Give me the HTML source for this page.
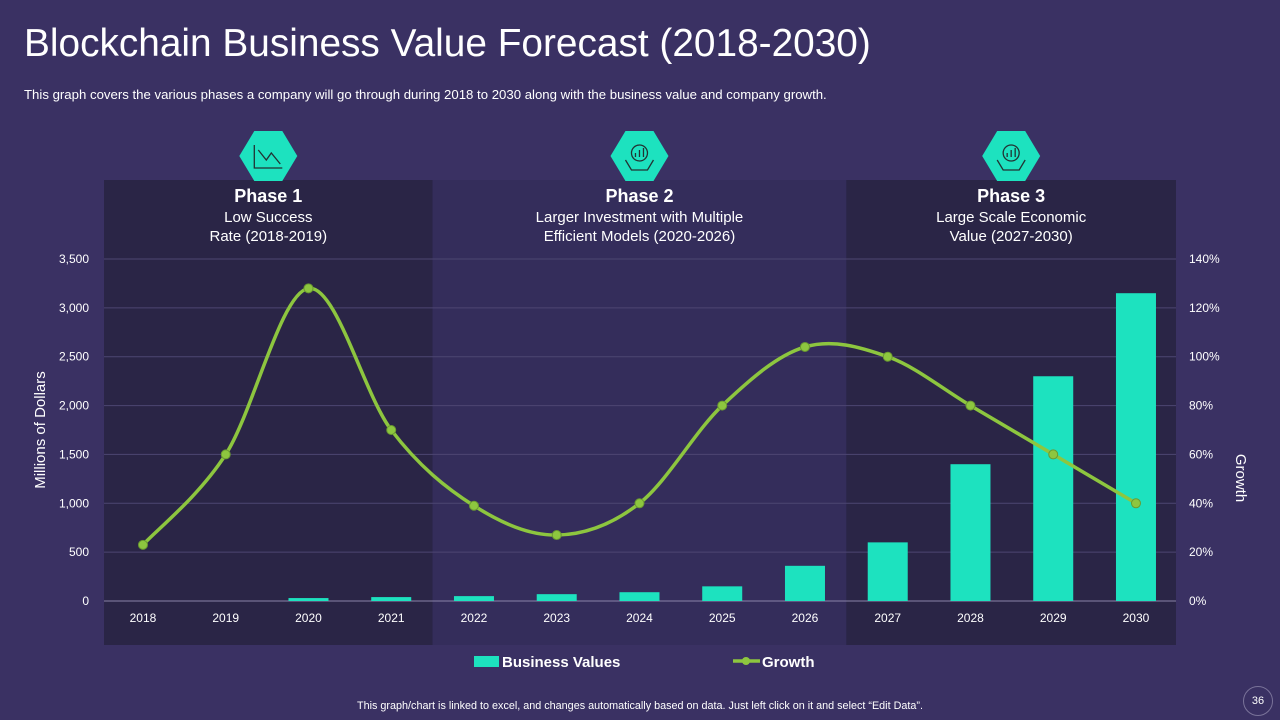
<!DOCTYPE html>
<html><head><meta charset="utf-8"><style>
body{margin:0;width:1280px;height:720px;background:#3a3163;font-family:"Liberation Sans",sans-serif;overflow:hidden;position:relative;color:#fff}
.t{position:absolute}
</style></head><body>
<div class="t" style="left:24px;top:22px;font-size:38.8px;color:#fff">Blockchain Business Value Forecast (2018-2030)</div>
<div class="t" style="left:24px;top:87px;font-size:13.2px">This graph covers the various  phases a company will go through during 2018 to 2030 along with the business value and company growth.</div>
<svg id="c" width="1280" height="720" style="position:absolute;left:0;top:0"></svg>
<div class="t" style="left:0;width:1280px;text-align:center;top:700px;font-size:10.8px">This graph/chart is linked to excel, and changes automatically based on data. Just left click on it and select “Edit Data”.</div>
<div class="t" style="left:1243px;top:686px;width:28px;height:28px;border:1px solid #7a7399;border-radius:50%;text-align:center;line-height:28px;font-size:11px">36</div>
<script>
const years=["2018","2019","2020","2021","2022","2023","2024","2025","2026","2027","2028","2029","2030"];
const businessValues=[0,0,30,40,50,70,90,150,360,600,1400,2300,3150];
const growth=[23,60,128,70,39,27,40,80,104,100,80,60,40];
const leftTicks=["0","500","1,000","1,500","2,000","2,500","3,000","3,500"];
const rightTicks=["0%","20%","40%","60%","80%","100%","120%","140%"];
const phaseTitles=["Phase 1","Phase 2","Phase 3"];
const phaseDesc=[["Low Success","Rate (2018-2019)"],["Larger Investment  with Multiple","Efficient Models (2020-2026)"],["Large Scale Economic","Value (2027-2030)"]];
const phaseSpans=[[0,3],[4,8],[9,12]];
const NS="http://www.w3.org/2000/svg",svg=document.getElementById('c');
function el(t,a,p){const e=document.createElementNS(NS,t);for(const k in a)e.setAttribute(k,a[k]);(p||svg).appendChild(e);return e;}
const x0=101.6,step=82.75,y0=601,yTop=259;
const xs=i=>x0+step*(i+0.5);
const yL=v=>y0-(y0-yTop)*v/3500;
const yR=v=>y0-(y0-yTop)*v/140;
let r=el('rect',{x:104,y:180,width:1072,height:465,fill:'#342d5b'});


const phaseColors=['#2a2546','#342d5b','#2a2546'];
phaseSpans.forEach((s,k)=>{
  const a=k==0?104:x0+step*s[0], b=k==2?1176:x0+step*(s[1]+1);
  const p=el('rect',{x:a,y:180,width:b-a,height:465,fill:phaseColors[k]});
  
  
  const cx=(a+b)/2;
  const hx=el('polygon',{points:[[cx-29,156],[cx-14,131],[cx+14,131],[cx+29,156],[cx+14,181],[cx-14,181]].map(q=>q.join(',')).join(' '),fill:'#1de2bf'});
  
  
  const ic=el('g',{stroke:'#233',fill:'none','stroke-width':1.3});
  if(k==0){el('path',{d:`M${cx-14} ${145}V${168}H${cx+14}M${cx-10} ${150}L${cx-2} ${160}L${cx+3} ${153}L${cx+12} ${164}`},ic);}
  else{el('circle',{cx:cx,cy:153,r:8},ic);el('path',{d:`M${cx-4} ${157}V${153}M${cx} ${157}V${150}M${cx+4} ${157}V${148}M${cx-14} ${160}L${cx-8} ${170}H${cx+8}L${cx+14} ${160}`},ic);}
  let t=el('text',{x:cx,y:202,'text-anchor':'middle','font-size':18,'font-weight':'bold',fill:'#fff'});t.textContent=phaseTitles[k];
  
  phaseDesc[k].forEach((d,j)=>{const u=el('text',{x:cx,y:222+j*19,'text-anchor':'middle','font-size':15,fill:'#fff'});u.textContent=d;
    });
});
leftTicks.forEach((l,i)=>{
  const y=yL(i*500);
  const g=el('line',{x1:104,x2:1176,y1:y,y2:y,stroke:i==0?'#8a84a8':'#4d4672','stroke-width':1});
  
  const t=el('text',{x:89,y:y+4,'text-anchor':'end','font-size':12,fill:'#fff'});t.textContent=l;
  
  const t2=el('text',{x:1189,y:y+4,'font-size':12,fill:'#fff'});t2.textContent=rightTicks[i];
  
});
let yt=el('text',{transform:'translate(45,430) rotate(-90)','text-anchor':'middle','font-size':15,fill:'#fff'});yt.textContent='Millions of Dollars';

let yt2=el('text',{transform:'translate(1236,478) rotate(90)','text-anchor':'middle','font-size':15,fill:'#fff'});yt2.textContent='Growth';

years.forEach((yv,i)=>{
  const t=el('text',{x:xs(i),y:622,'text-anchor':'middle','font-size':12,fill:'#fff'});t.textContent=yv;
  
  const h=y0-yL(businessValues[i]);
  const b=el('rect',{x:xs(i)-20,y:y0-h,width:40,height:h,fill:'#1de2bf'});
  
});
const P=growth.map((g,i)=>[xs(i),yR(g)]);
let d=`M${P[0][0]},${P[0][1]}`;
for(let i=0;i<P.length-1;i++){
  const p0=P[i-1]||P[i],p1=P[i],p2=P[i+1],p3=P[i+2]||p2,k=1/6;
  d+=` C${p1[0]+(p2[0]-p0[0])*k},${p1[1]+(p2[1]-p0[1])*k} ${p2[0]-(p3[0]-p1[0])*k},${p2[1]-(p3[1]-p1[1])*k} ${p2[0]},${p2[1]}`;
}
const ln=el('path',{d:d,fill:'none',stroke:'#8dc63f','stroke-width':3.5});

P.forEach((p,i)=>{const c=el('circle',{cx:p[0],cy:p[1],r:4.5,fill:'#8dc63f',stroke:'#6a9a30','stroke-width':1});
  });
let lg=el('rect',{x:474,y:656,width:25,height:11,fill:'#1de2bf'});
let lt=el('text',{x:502,y:667,'font-size':15,'font-weight':'bold',fill:'#fff'});lt.textContent='Business Values';
let ll=el('line',{x1:733,x2:760,y1:661,y2:661,stroke:'#8dc63f','stroke-width':3.5});
el('circle',{cx:746,cy:661,r:4,fill:'#8dc63f'});
let lt2=el('text',{x:762,y:667,'font-size':15,'font-weight':'bold',fill:'#fff'});lt2.textContent='Growth';
</script>
</body></html>
